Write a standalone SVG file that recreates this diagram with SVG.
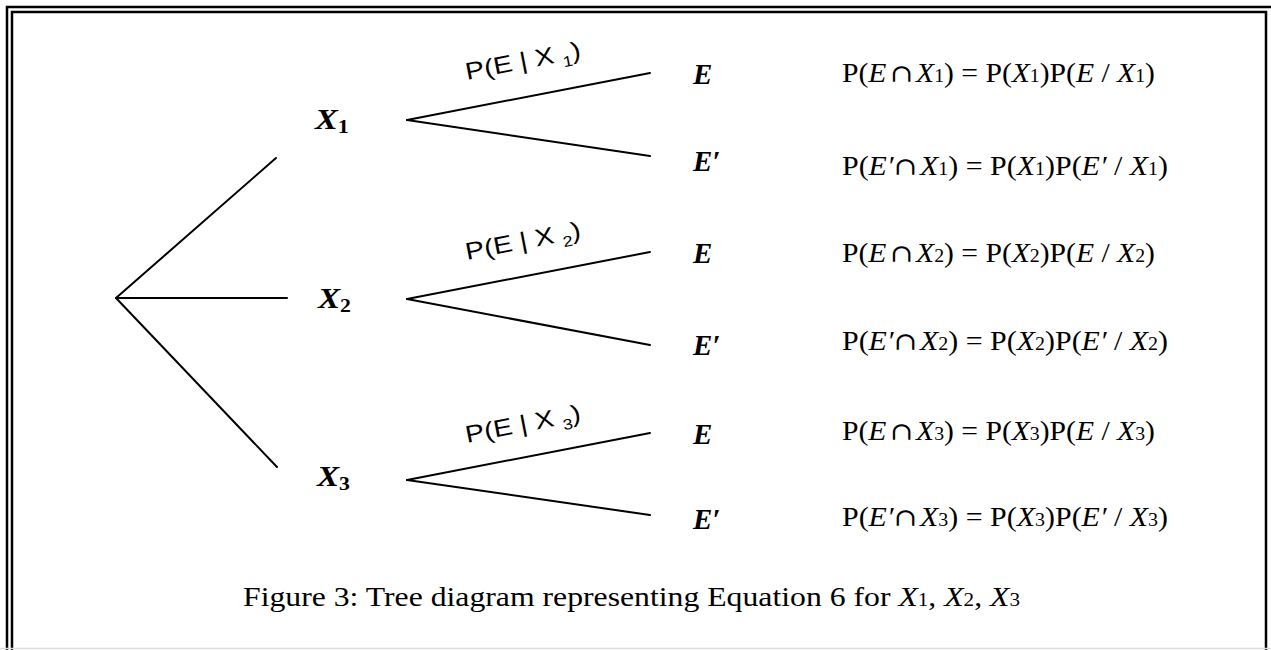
<svg xmlns="http://www.w3.org/2000/svg" width="1271" height="650" viewBox="0 0 1271 650">
<style>
.ln{stroke:#000;stroke-width:2;fill:none;stroke-linecap:round}
.nd{font-family:"Liberation Serif",serif;font-weight:bold;font-style:italic;font-size:29px}
.sb{font-size:19px;font-style:normal}
.fm{font-family:"Liberation Serif",serif;font-size:27px}
.fm .i{font-style:italic}
.fm .s{font-size:18px}
.fm .c{font-family:"DejaVu Serif",serif;font-size:25px}
.pl{font-family:"Liberation Sans",sans-serif;font-size:24px}
.pl .s{font-size:15px}
.cap{font-family:"Liberation Serif",serif;font-size:27px}
.cap .s{font-size:18px}
</style>
<rect width="1271" height="650" fill="#fff"/>
<g id="frame">
<path d="M7,650 V7 H1271" stroke="#000" stroke-width="2.5" fill="none"/>
<path d="M12,650 V12 H1266 V650" stroke="#000" stroke-width="2.5" fill="none"/>
<line x1="0" y1="648.5" x2="1271" y2="648.5" stroke="#ddd" stroke-width="1.5"/>
</g>
<g id="connectors">
<line class="ln" x1="116" y1="298" x2="276" y2="158"/>
<line class="ln" x1="116" y1="298" x2="287" y2="298"/>
<line class="ln" x1="116" y1="298" x2="277" y2="467"/>
<line class="ln" x1="407" y1="120" x2="650" y2="73"/>
<line class="ln" x1="407" y1="120" x2="650" y2="156"/>
<line class="ln" x1="407" y1="299" x2="650" y2="252"/>
<line class="ln" x1="407" y1="299" x2="650" y2="345"/>
<line class="ln" x1="407" y1="480" x2="650" y2="433"/>
<line class="ln" x1="407" y1="480" x2="650" y2="515"/>
</g>
<g id="labels">
<text class="pl" transform="translate(467,80) rotate(-11)" textLength="117" lengthAdjust="spacingAndGlyphs">P(E |  X <tspan class="s" dy="6">1</tspan><tspan dy="-6">)</tspan></text>
<text class="pl" transform="translate(467,260) rotate(-11)" textLength="117" lengthAdjust="spacingAndGlyphs">P(E |  X <tspan class="s" dy="6">2</tspan><tspan dy="-6">)</tspan></text>
<text class="pl" transform="translate(467,443) rotate(-11)" textLength="117" lengthAdjust="spacingAndGlyphs">P(E |  X <tspan class="s" dy="6">3</tspan><tspan dy="-6">)</tspan></text>
</g>
<g id="X1"><text class="nd" x="315" y="129" textLength="34" lengthAdjust="spacingAndGlyphs">X<tspan class="sb" dy="4">1</tspan></text></g>
<g id="X2"><text class="nd" x="318" y="308" textLength="33" lengthAdjust="spacingAndGlyphs">X<tspan class="sb" dy="4">2</tspan></text></g>
<g id="X3"><text class="nd" x="317" y="486" textLength="33" lengthAdjust="spacingAndGlyphs">X<tspan class="sb" dy="4">3</tspan></text></g>
<g id="E1"><text class="nd" x="693" y="84">E</text></g>
<g id="E1p"><text class="nd" x="693" y="171">E′</text></g>
<g id="E2"><text class="nd" x="693" y="263">E</text></g>
<g id="E2p"><text class="nd" x="693" y="355">E′</text></g>
<g id="E3"><text class="nd" x="693" y="444">E</text></g>
<g id="E3p"><text class="nd" x="693" y="529">E′</text></g>
<g id="formulas">
<text class="fm" x="842" y="82" textLength="313" lengthAdjust="spacingAndGlyphs">P(<tspan class="i">E</tspan><tspan class="c" dx="3">∩</tspan><tspan class="i" dx="3">X</tspan><tspan class="s">1</tspan>) = P(<tspan class="i">X</tspan><tspan class="s">1</tspan>)P(<tspan class="i">E</tspan> / <tspan class="i">X</tspan><tspan class="s">1</tspan>)</text>
<text class="fm" x="842" y="175" textLength="326" lengthAdjust="spacingAndGlyphs">P(<tspan class="i">E′</tspan><tspan class="c">∩</tspan><tspan class="i" dx="3">X</tspan><tspan class="s">1</tspan>) = P(<tspan class="i">X</tspan><tspan class="s">1</tspan>)P(<tspan class="i">E′</tspan> / <tspan class="i">X</tspan><tspan class="s">1</tspan>)</text>
<text class="fm" x="842" y="262" textLength="313" lengthAdjust="spacingAndGlyphs">P(<tspan class="i">E</tspan><tspan class="c" dx="3">∩</tspan><tspan class="i" dx="3">X</tspan><tspan class="s">2</tspan>) = P(<tspan class="i">X</tspan><tspan class="s">2</tspan>)P(<tspan class="i">E</tspan> / <tspan class="i">X</tspan><tspan class="s">2</tspan>)</text>
<text class="fm" x="842" y="350" textLength="326" lengthAdjust="spacingAndGlyphs">P(<tspan class="i">E′</tspan><tspan class="c">∩</tspan><tspan class="i" dx="3">X</tspan><tspan class="s">2</tspan>) = P(<tspan class="i">X</tspan><tspan class="s">2</tspan>)P(<tspan class="i">E′</tspan> / <tspan class="i">X</tspan><tspan class="s">2</tspan>)</text>
<text class="fm" x="842" y="440" textLength="313" lengthAdjust="spacingAndGlyphs">P(<tspan class="i">E</tspan><tspan class="c" dx="3">∩</tspan><tspan class="i" dx="3">X</tspan><tspan class="s">3</tspan>) = P(<tspan class="i">X</tspan><tspan class="s">3</tspan>)P(<tspan class="i">E</tspan> / <tspan class="i">X</tspan><tspan class="s">3</tspan>)</text>
<text class="fm" x="842" y="526" textLength="326" lengthAdjust="spacingAndGlyphs">P(<tspan class="i">E′</tspan><tspan class="c">∩</tspan><tspan class="i" dx="3">X</tspan><tspan class="s">3</tspan>) = P(<tspan class="i">X</tspan><tspan class="s">3</tspan>)P(<tspan class="i">E′</tspan> / <tspan class="i">X</tspan><tspan class="s">3</tspan>)</text>
</g>
<g id="caption">
<text class="cap" x="243" y="606" textLength="777" lengthAdjust="spacingAndGlyphs">Figure 3: Tree diagram representing Equation 6 for <tspan font-style="italic">X</tspan><tspan class="s">1</tspan>, <tspan font-style="italic">X</tspan><tspan class="s">2</tspan>, <tspan font-style="italic">X</tspan><tspan class="s">3</tspan></text>
</g>
</svg>
